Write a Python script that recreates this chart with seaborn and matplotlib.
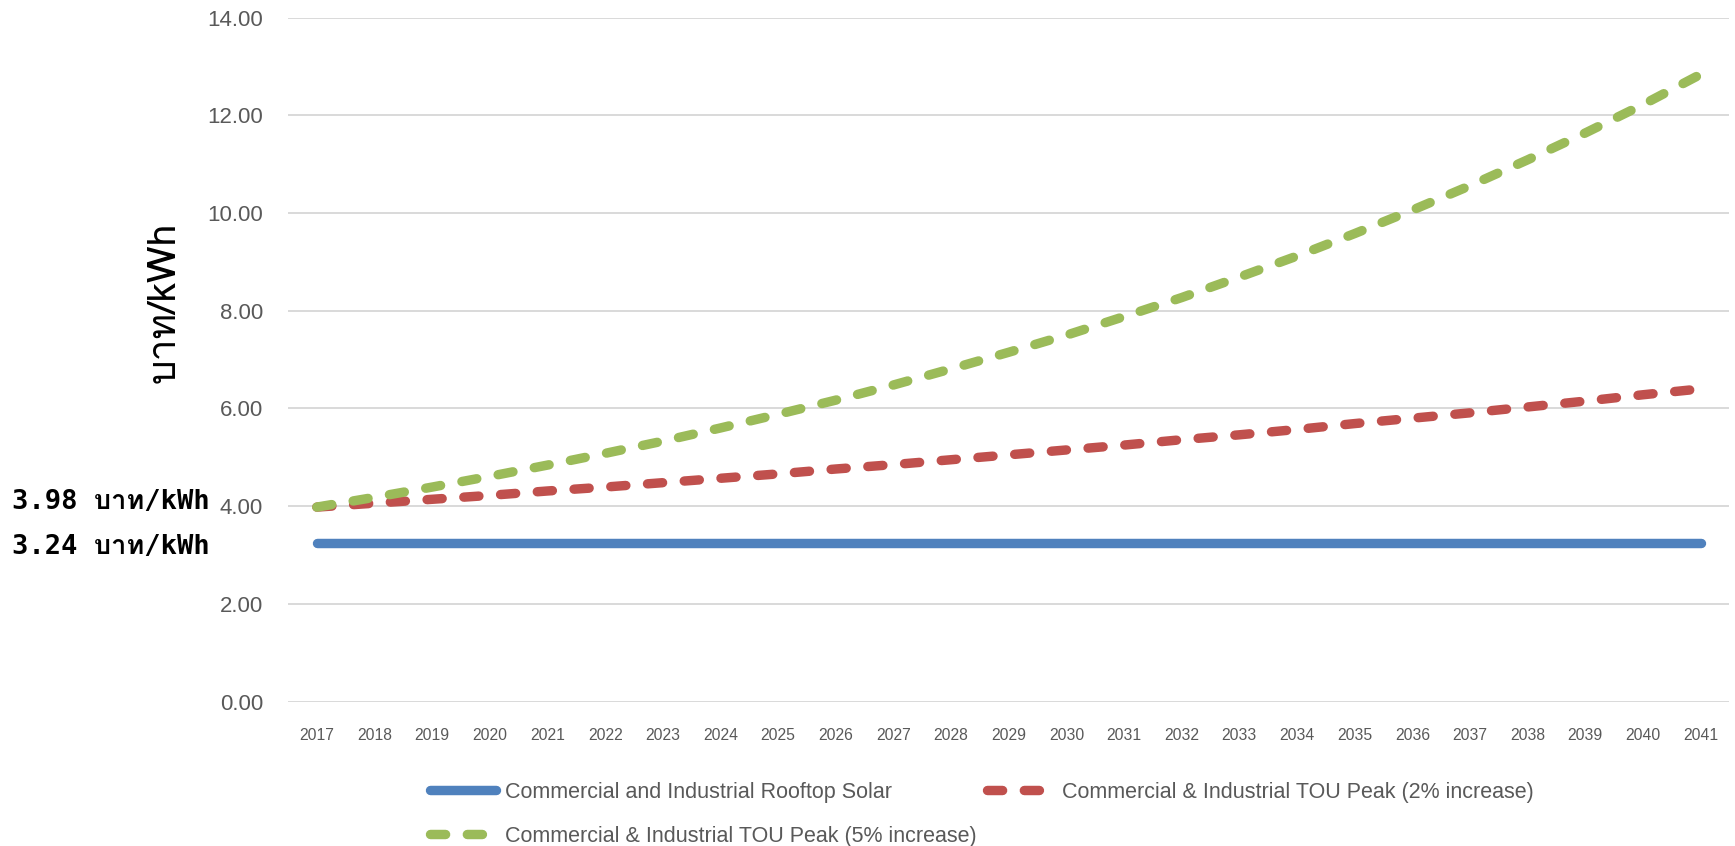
import matplotlib
matplotlib.use("Agg")
import matplotlib.pyplot as plt
from matplotlib import font_manager
from matplotlib.lines import Line2D
import pandas as pd
import seaborn as sns

# ---- data -------------------------------------------------------------
years = ["2017", "2018", "2019", "2020", "2021", "2022", "2023", "2024", "2025",
         "2026", "2027", "2028", "2029", "2030", "2031", "2032", "2033", "2034",
         "2035", "2036", "2037", "2038", "2039", "2040", "2041"]

rooftop_solar = [3.24, 3.24, 3.24, 3.24, 3.24, 3.24, 3.24, 3.24, 3.24, 3.24,
                 3.24, 3.24, 3.24, 3.24, 3.24, 3.24, 3.24, 3.24, 3.24, 3.24,
                 3.24, 3.24, 3.24, 3.24, 3.24]

tou_peak_2pct = [3.98, 4.06, 4.14, 4.22, 4.31, 4.39, 4.48, 4.57, 4.66, 4.76,
                 4.85, 4.95, 5.05, 5.15, 5.25, 5.36, 5.46, 5.57, 5.69, 5.80,
                 5.91, 6.03, 6.15, 6.28, 6.40]

tou_peak_5pct = [3.98, 4.18, 4.39, 4.61, 4.84, 5.08, 5.33, 5.60, 5.88, 6.17,
                 6.48, 6.81, 7.15, 7.50, 7.88, 8.27, 8.69, 9.12, 9.58, 10.06,
                 10.56, 11.09, 11.64, 12.22, 12.84]

series_names = ["Commercial and Industrial Rooftop Solar",
                "Commercial & Industrial TOU Peak (2% increase)",
                "Commercial & Industrial TOU Peak (5% increase)"]

y_ticks = [0, 2, 4, 6, 8, 10, 12, 14]
y_label = "บาท/kWh"
note_labels = ["3.98 บาท/kWh", "3.24 บาท/kWh"]

# ---- fonts ------------------------------------------------------------
sns.set_style("white")


def find_family_with(chars):
    try:
        from fontTools.ttLib import TTFont
    except Exception:
        return None
    seen = set()
    for f in font_manager.fontManager.ttflist:
        if f.name in seen:
            continue
        seen.add(f.name)
        try:
            tt = TTFont(f.fname, fontNumber=0, lazy=True)
            cmap = tt.getBestCmap() or {}
        except Exception:
            continue
        if all(ord(c) in cmap for c in chars):
            return f.name
    return None


installed = {f.name for f in font_manager.fontManager.ttflist}
thai = find_family_with("บาท")
thai_list = ([thai] if thai else []) + ["DejaVu Sans"]

typewriter = [n for n in ("Tlwg Typewriter", "TlwgTypewriter", "Tlwg Typist",
                          "TlwgTypist", "Tlwg Typo", "TlwgTypo", "Tlwg Mono",
                          "TlwgMono") if n in installed]
note_family = typewriter[:1] + ["DejaVu Sans Mono"] + ([thai] if thai else [])

plt.rcParams["font.family"] = ["Liberation Sans", "DejaVu Sans"]

GRAY = "#595959"
BLUE = "#4F81BD"
RED = "#C0504D"
GREEN = "#9BBB59"
LW = 6.8
DASH = (1.6, 2.3)

# ---- figure -----------------------------------------------------------
fig = plt.figure(figsize=(17.35, 8.46), dpi=100)
ax = fig.add_axes([0.166, 0.1708, 0.8308, 0.8083])

df = pd.DataFrame({"year": years,
                   "solar": rooftop_solar,
                   "p2": tou_peak_2pct,
                   "p5": tou_peak_5pct})

sns.lineplot(data=df, x="year", y="solar", ax=ax, color=BLUE, lw=LW,
             solid_capstyle="round", sort=False)
sns.lineplot(data=df, x="year", y="p2", ax=ax, color=RED, lw=LW,
             linestyle=(0, DASH), dash_capstyle="round", sort=False)
sns.lineplot(data=df, x="year", y="p5", ax=ax, color=GREEN, lw=LW,
             linestyle=(0, DASH), dash_capstyle="round", sort=False)

ax.set_xlim(-0.5, len(years) - 0.5)
ax.set_ylim(0, 14)
ax.set_yticks(y_ticks)
ax.set_yticklabels([f"{v:.2f}" for v in y_ticks])
ax.grid(axis="y", color="#D9D9D9", lw=1.4)
ax.grid(axis="x", visible=False)
ax.set_axisbelow(True)
for s in ax.spines.values():
    s.set_visible(False)

ax.tick_params(axis="y", length=0, pad=18, labelsize=16, labelcolor=GRAY)
ax.tick_params(axis="x", length=0, pad=19, labelsize=11.3, labelcolor=GRAY)

ax.set_xlabel("")
ax.set_ylabel(y_label, fontsize=28, color="black", va="center",
              family=thai_list)
ax.yaxis.set_label_coords(-0.0858, 0.584)

# left-side price notes
for text, ypx in zip(note_labels, [502, 547]):
    fig.text(12 / 1735, 1 - ypx / 846, text, ha="left", va="center",
             fontsize=19.5, fontweight="bold", color="black",
             family=note_family)

# ---- legend -----------------------------------------------------------
handles = [
    Line2D([], [], color=BLUE, lw=LW, solid_capstyle="round"),
    Line2D([], [], color=GREEN, lw=LW, linestyle=(0, DASH), dash_capstyle="round"),
    Line2D([], [], color=RED, lw=LW, linestyle=(0, DASH), dash_capstyle="round"),
]
labels = [series_names[0], series_names[2], series_names[1]]
leg = fig.legend(handles, labels, ncol=2, loc="upper left",
                 bbox_to_anchor=(430 / 1735, 1 - 782 / 846),
                 frameon=False, borderpad=0, borderaxespad=0,
                 handlelength=3.05, handletextpad=0.42, columnspacing=0.5,
                 labelspacing=1.05,
                 prop={"family": ["Liberation Sans", "DejaVu Sans"], "size": 15.5})
for t in leg.get_texts():
    t.set_color(GRAY)

fig.savefig("out.png", dpi=100)
